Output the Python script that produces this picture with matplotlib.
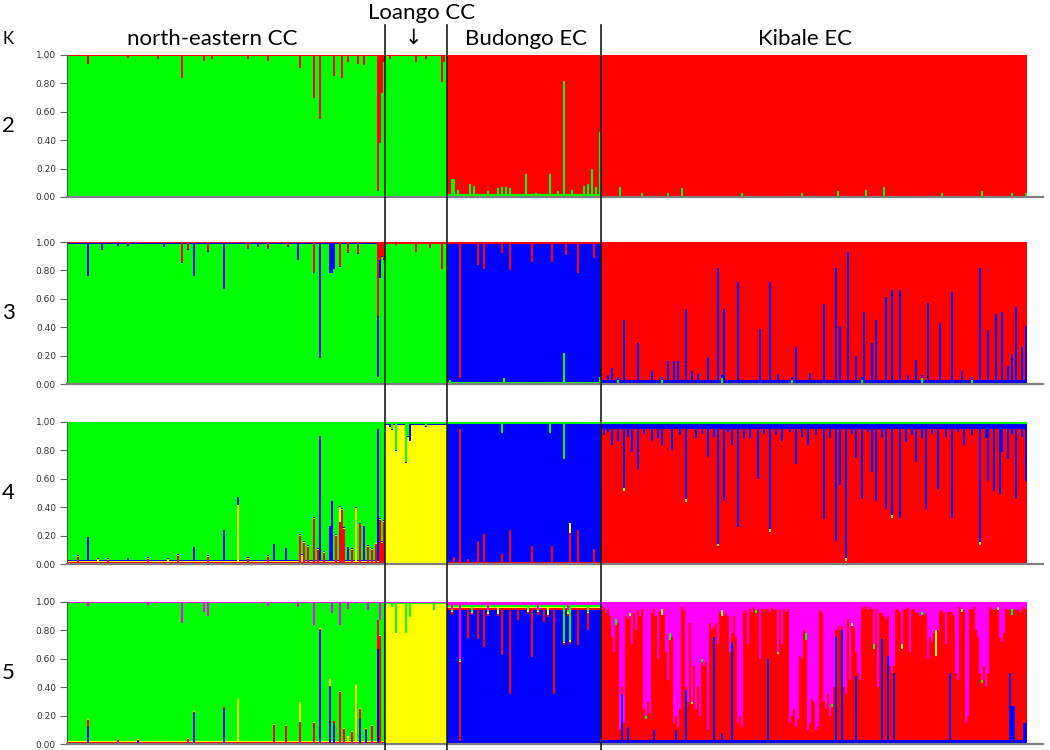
#!/usr/bin/env python3
"""
STRUCTURE-style admixture bar plot, K = 2..5
"""

import numpy as np
import matplotlib
matplotlib.use("Agg")
import matplotlib.pyplot as plt
from matplotlib.lines import Line2D
from matplotlib import transforms

# ---------------------------------------------------------------- data
GROUPS = ["north-eastern CC", "Loango CC", "Budongo EC", "Kibale EC"]
GROUP_SIZES = [159, 31, 77, 213]
K_VALUES = [2, 3, 4, 5]
Y_TICKS = [0.0, 0.2, 0.4, 0.6, 0.8, 1.0]

COLORS = {"green": "#00ff00", "red": "#ff0000", "blue": "#0000ff",
          "yellow": "#ffff00", "magenta": "#ff00ff"}

# bottom -> top order of the clusters in each run
STACK_ORDER = {2: ["green", "red"],
               3: ["green", "blue", "red"],
               4: ["red", "yellow", "blue", "green"],
               5: ["blue", "red", "yellow", "green", "magenta"]}

# cluster that fills the remainder, per group
DOMINANT = {2: ["green", "green", "red", "red"],
            3: ["green", "green", "blue", "red"],
            4: ["green", "yellow", "blue", "red"],
            5: ["green", "yellow", "blue", "red"]}

# small background share of the minor clusters, per group
BASE = {
    2: [{"red": .008}, {"red": .008}, {"green": .02}, {"green": .008}],
    3: [{"blue": .008, "red": .008}, {"red": .012}, {"green": .012, "red": .012},
        {"blue": .02, "green": .01}],
    4: [{"red": .015, "blue": .006, "yellow": .006}, {"green": .015, "blue": .008},
        {"red": .015, "green": .015}, {"blue": .035, "green": .015}],
    5: [{"red": .01, "blue": .008, "yellow": .005, "magenta": .008},
        {"magenta": .01, "green": .008},
        {"magenta": .02, "red": .015, "green": .015, "yellow": .01},
        {"blue": .03}],
}

# Kibale EC at K = 5: magenta share of every individual (rest mostly red)
KIBALE_K5_MAGENTA = [
    .06, .04, .08, .05, .10, .25, .35, .12, .15, .90,
    .60, .85, .10, .12, .08, .30, .08, .20, .06, .10,
    .05, .75, .80, .70, .78, .08, .05, .10, .40, .07,
    .05, .09, .35, .55, .22, .25, .85, .80, .88, .75,
    .04, .06, .60, .70, .15, .70, .45, .75, .60, .80,
    .40, .45, .42, .90, .15, .20, .18, .15, .30, .08,
    .06, .10, .08, .10, .35, .22, .10, .25, .85, .80,
    .88, .08, .06, .30, .05, .07, .04, .06, .05, .40,
    .05, .06, .05, .05, .07, .04, .06, .05, .35, .06,
    .30, .05, .07, .05, .85, .80, .75, .88, .82, .38,
    .40, .20, .22, .90, .85, .68, .70, .90, .88, .06,
    .08, .70, .75, .65, .80, .72, .60, .20, .17, .20,
    .17, .60, .65, .12, .55, .15, .18, .35, .50, .55,
    .04, .05, .03, .06, .04, .05, .30, .05, .60, .08,
    .08, .10, .12, .10, .45, .50, .45, .06, .05, .07,
    .30, .06, .05, .04, .35, .06, .05, .07, .08, .10,
    .07, .09, .08, .40, .25, .28, .22, .20, .20, .07,
    .06, .08, .30, .07, .07, .07, .09, .50, .55, .04,
    .05, .06, .85, .80, .05, .06, .04, .20, .25, .50,
    .55, .45, .60, .50, .04, .05, .06, .05, .04, .25,
    .28, .22, .05, .06, .05, .05, .06, .06, .05, .07,
    .06, .04, .05,
]

# individual departures: (group, cluster, index in group, share)
SPIKES = {
    2: [(0, "red", i, v) for i, v in [(10, .06), (30, .02), (45, .03), (57, .16), (68, .04),
                                      (72, .03), (90, .03), (100, .04), (116, .09), (123, .30),
                                      (126, .45), (133, .15), (137, .16), (140, .05), (145, .06),
                                      (148, .07), (155, .96), (156, .62), (157, .27), (158, .05)]]
       + [(1, "red", i, v) for i, v in [(2, .03), (15, .05), (20, .03), (28, .19), (29, .05)]]
       + [(2, "green", i, v) for i, v in [(2, .13), (3, .13), (5, .05), (11, .09), (13, .08),
                                          (20, .04), (25, .06), (27, .07), (29, .07), (31, .06),
                                          (39, .16), (44, .03), (51, .16), (55, .04), (58, .82),
                                          (62, .05), (68, .08), (70, .09), (72, .20), (74, .07),
                                          (76, .46)]]
       + [(3, "green", i, v) for i, v in [(9, .07), (20, .03), (33, .03), (40, .06), (70, .03),
                                          (100, .03), (118, .04), (132, .05), (141, .07),
                                          (170, .03), (190, .04), (205, .03), (212, .03)]],
    3: [(0, "blue", i, v) for i, v in [(10, .23), (17, .05), (25, .02), (48, .03), (63, .23),
                                       (78, .32), (95, .03), (115, .12), (126, .81), (131, .21),
                                       (132, .21), (133, .18), (155, .43), (156, .12)]]
       + [(0, "red", i, v) for i, v in [(30, .02), (57, .14), (60, .05), (70, .06), (90, .04),
                                        (100, .04), (110, .03), (123, .21), (136, .17),
                                        (140, .07), (145, .08), (155, .52), (156, .13),
                                        (157, .10), (158, .12)]]
       + [(1, "red", i, v) for i, v in [(5, .02), (15, .07), (22, .04), (28, .19)]]
       + [(2, "red", i, v) for i, v in [(6, .96), (15, .16), (18, .19), (27, .08), (31, .20),
                                        (42, .14), (52, .14), (59, .09), (65, .22), (73, .11)]]
       + [(2, "green", i, v) for i, v in [(1, .03), (28, .04), (58, .22), (76, .05)]]
       + [(3, "blue", i, v) for i, v in [(3, .05), (5, .10), (11, .44), (18, .28), (25, .08),
                                         (33, .15), (36, .15), (38, .15), (42, .52), (45, .08),
                                         (48, .06), (53, .17), (58, .81), (61, .52), (68, .71),
                                         (79, .38), (84, .71), (88, .06), (97, .25), (104, .07),
                                         (111, .55), (117, .81), (119, .40), (123, .92),
                                         (127, .19), (131, .50), (135, .28), (137, .44),
                                         (142, .60), (145, .65), (149, .65), (153, .05),
                                         (157, .16), (163, .56), (169, .42), (175, .64),
                                         (180, .08), (189, .81), (193, .37), (197, .48),
                                         (200, .50), (203, .12), (205, .20), (207, .53),
                                         (210, .25), (212, .40)]]
       + [(3, "green", i, v) for i, v in [(8, .03), (30, .03), (60, .04), (95, .03), (130, .03),
                                          (160, .04), (185, .03)]],
    4: [(0, "blue", i, v) for i, v in [(10, .17), (30, .02), (63, .10), (78, .22), (85, .06),
                                       (103, .12), (109, .09), (126, .88), (131, .25),
                                       (132, .42), (140, .10), (148, .25), (155, .93)]]
       + [(0, "yellow", i, v) for i, v in [(15, .02), (50, .02), (85, .40), (117, .05),
                                           (136, .10), (144, .38)]]
       + [(0, "red", i, v) for i, v in [(5, .05), (20, .03), (40, .04), (55, .06), (70, .05),
                                        (90, .04), (100, .05), (116, .20), (118, .15),
                                        (120, .12), (123, .32), (125, .10), (128, .08),
                                        (134, .20), (136, .30), (137, .38), (138, .25),
                                        (142, .10), (146, .28), (150, .12), (152, .10),
                                        (154, .14), (156, .31), (157, .15), (158, .30)]]
       + [(1, "green", i, v) for i, v in [(3, .05), (5, .20), (10, .28), (11, .10), (20, .03)]]
       + [(1, "blue", i, v) for i, v in [(2, .02), (12, .12)]]
       + [(2, "red", i, v) for i, v in [(3, .05), (6, .95), (10, .04), (15, .16), (18, .21),
                                        (27, .07), (31, .24), (42, .13), (52, .13), (61, .22),
                                        (65, .24), (73, .11)]]
       + [(2, "green", i, v) for i, v in [(27, .08), (51, .08), (58, .26)]]
       + [(2, "yellow", i, v) for i, v in [(61, .07)]]
       + [(3, "blue", i, v) for i, v in [(1, .08), (3, .06), (5, .15), (8, .12), (11, .45),
                                         (13, .09), (15, .20), (18, .32), (21, .07), (25, .12),
                                         (28, .10), (30, .15), (35, .18), (39, .08), (42, .53),
                                         (47, .10), (50, .07), (53, .23), (56, .09), (58, .84),
                                         (61, .54), (63, .06), (65, .15), (68, .72), (71, .10),
                                         (74, .10), (78, .39), (81, .07), (84, .74), (87, .08),
                                         (90, .12), (94, .06), (97, .28), (100, .09),
                                         (103, .15), (107, .08), (111, .67), (114, .10),
                                         (117, .82), (119, .43), (122, .94), (125, .07),
                                         (127, .24), (130, .53), (133, .06), (135, .34),
                                         (137, .54), (140, .09), (142, .60), (145, .64),
                                         (149, .66), (152, .13), (155, .08), (157, .27),
                                         (160, .10), (162, .60), (165, .07), (168, .46),
                                         (172, .09), (175, .66), (178, .06), (181, .15),
                                         (185, .08), (189, .83), (192, .10), (193, .40),
                                         (196, .47), (199, .49), (200, .20), (203, .25),
                                         (205, .07), (207, .53), (210, .09), (212, .40)]]
       + [(3, "yellow", i, v) for i, v in [(11, .02), (42, .02), (58, .02), (84, .02),
                                           (122, .02), (145, .02), (189, .02)]],
    5: [(0, "magenta", i, v) for i, v in [(10, .03), (40, .02), (57, .15), (68, .07), (70, .10),
                                          (100, .03), (115, .04), (123, .16), (132, .08),
                                          (136, .16), (140, .05), (150, .06), (156, .13)]]
       + [(0, "blue", i, v) for i, v in [(10, .12), (35, .02), (63, .22), (78, .25), (126, .80),
                                         (131, .40), (133, .15), (146, .18), (149, .10),
                                         (155, .67)]]
       + [(0, "red", i, v) for i, v in [(10, .05), (25, .02), (60, .03), (103, .13),
                                        (109, .12), (116, .15), (123, .14), (136, .36),
                                        (138, .10), (142, .08), (146, .07), (152, .12),
                                        (155, .20), (156, .75)]]
       + [(0, "yellow", i, v) for i, v in [(85, .30), (116, .14), (131, .05), (140, .04),
                                           (144, .40)]]
       + [(1, "green", i, v) for i, v in [(3, .03), (5, .21), (10, .21), (12, .10), (24, .05)]]
       + [(2, "red", i, v) for i, v in [(6, .55), (10, .21), (15, .22), (18, .27), (27, .33),
                                        (31, .60), (35, .08), (42, .34), (48, .10), (53, .60),
                                        (65, .26), (70, .12)]]
       + [(2, "magenta", i, v) for i, v in [(2, .05), (6, .40), (20, .06), (45, .05), (60, .06)]]
       + [(2, "green", i, v) for i, v in [(12, .05), (40, .04), (58, .26), (61, .25), (70, .05)]]
       + [(2, "yellow", i, v) for i, v in [(25, .05), (50, .06)]]
       + [(3, "blue", i, v) for i, v in [(10, .35), (13, .12), (26, .10), (37, .10), (42, .38),
                                         (56, .75), (60, .08), (65, .72), (83, .60), (117, .75),
                                         (120, .80), (127, .48), (140, .74), (143, .62),
                                         (146, .50), (174, .50), (204, .50), (205, .27),
                                         (206, .27), (211, .15), (212, .15)]]
       + [(3, "green", i, v) for i, v in [(7, .04), (22, .02), (34, .05), (50, .02), (77, .02),
                                          (102, .05), (115, .02), (136, .03), (160, .02),
                                          (190, .02), (205, .04)]]
       + [(3, "yellow", i, v) for i, v in [(14, .02), (30, .04), (45, .02), (60, .04),
                                           (88, .02), (125, .02), (150, .03), (167, .18),
                                           (180, .02), (198, .02)]],
}


def membership(k):
    """Return dict cluster -> array of shares for every individual"""
    offsets = np.cumsum([0] + GROUP_SIZES[:-1])
    rows, doms = [], []
    for g, n in enumerate(GROUP_SIZES):
        for i in range(n):
            rows.append(dict(BASE[k][g]))
            doms.append(DOMINANT[k][g])

    if k == 5:
        assert len(KIBALE_K5_MAGENTA) == GROUP_SIZES[3]
        for j, mag in enumerate(KIBALE_K5_MAGENTA):
            rows[offsets[3] + j]["magenta"] = mag

    for g, cl, i, v in SPIKES[k]:
        rows[offsets[g] + i][cl] = v

    out = {cl: np.zeros(len(rows)) for cl in STACK_ORDER[k]}
    for n, (row, dom) in enumerate(zip(rows, doms)):
        row.pop(dom, None)
        minor = sum(row.values())
        if minor > 1:
            row = {c: v / minor for c, v in row.items()}
            minor = 1.0
        row[dom] = 1.0 - minor
        for cl, v in row.items():
            out[cl][n] = v
    return out


# ---------------------------------------------------------------- figure
W, H = 1050, 750
fig = plt.figure(figsize=(W / 100, H / 100), dpi=100)

n_total = sum(GROUP_SIZES)
left_px, right_px = 67, 1043
panel_px = [(55, 197), (242, 384), (421.7, 564.3), (601.7, 744.3)]

axes = []
for k, (top, bot) in zip(K_VALUES, panel_px):
    ax = fig.add_axes([left_px / W, 1 - bot / H, (right_px - left_px) / W, (bot - top) / H])
    shares = membership(k)
    x = np.arange(n_total)
    bottom = np.zeros(n_total)
    for cl in STACK_ORDER[k]:
        ax.bar(x, shares[cl], bottom=bottom, width=1.0, align="edge",
               color=COLORS[cl], linewidth=0, antialiased=False)
        bottom += shares[cl]

    ax.set_xlim(0, (right_px - left_px) / 2)
    ax.set_ylim(0, 1)
    ax.set_xticks([])
    ax.set_yticks(Y_TICKS)
    ax.set_yticklabels([f"{t:.2f}" for t in Y_TICKS], fontsize=6.5, color="#333333",
                       family="DejaVu Sans")
    ax.tick_params(axis="y", length=5, width=0.8, color="#666666", pad=3)
    for side in ("top", "right"):
        ax.spines[side].set_visible(False)
    ax.spines["left"].set_color("#555555")
    ax.spines["left"].set_linewidth(0.8)
    ax.spines["bottom"].set_color("#7f7f7f")
    ax.spines["bottom"].set_linewidth(1.6)

    fig.text(8 / W, 1 - ((top + bot) / 2) / H, str(k), fontsize=16, family="Lato",
             ha="center", va="center")
    axes.append(ax)

# group separators running through all panels
trans = transforms.blended_transform_factory(axes[-1].transData, fig.transFigure)
for b in np.cumsum(GROUP_SIZES)[:-1]:
    fig.add_artist(Line2D([b, b], [0, 1 - 25 / H], transform=trans,
                          color="#1a1a1a", linewidth=1.2))

# labels above the panels
label_font = dict(fontsize=16, family="Lato", ha="center", va="center")
fig.text(8 / W, 1 - 39 / H, "K", fontsize=12, family="Lato", ha="center", va="center")
fig.text(212 / W, 1 - 39 / H, GROUPS[0], **label_font)
fig.text(422 / W, 1 - 13 / H, GROUPS[1], **label_font)
fig.text(413 / W, 1 - 38 / H, "\u2193", fontsize=15, family="DejaVu Sans",
         ha="center", va="center")
fig.text(526 / W, 1 - 39 / H, GROUPS[2], **label_font)
fig.text(805 / W, 1 - 39 / H, GROUPS[3], **label_font)

fig.savefig("out.png", dpi=100)
